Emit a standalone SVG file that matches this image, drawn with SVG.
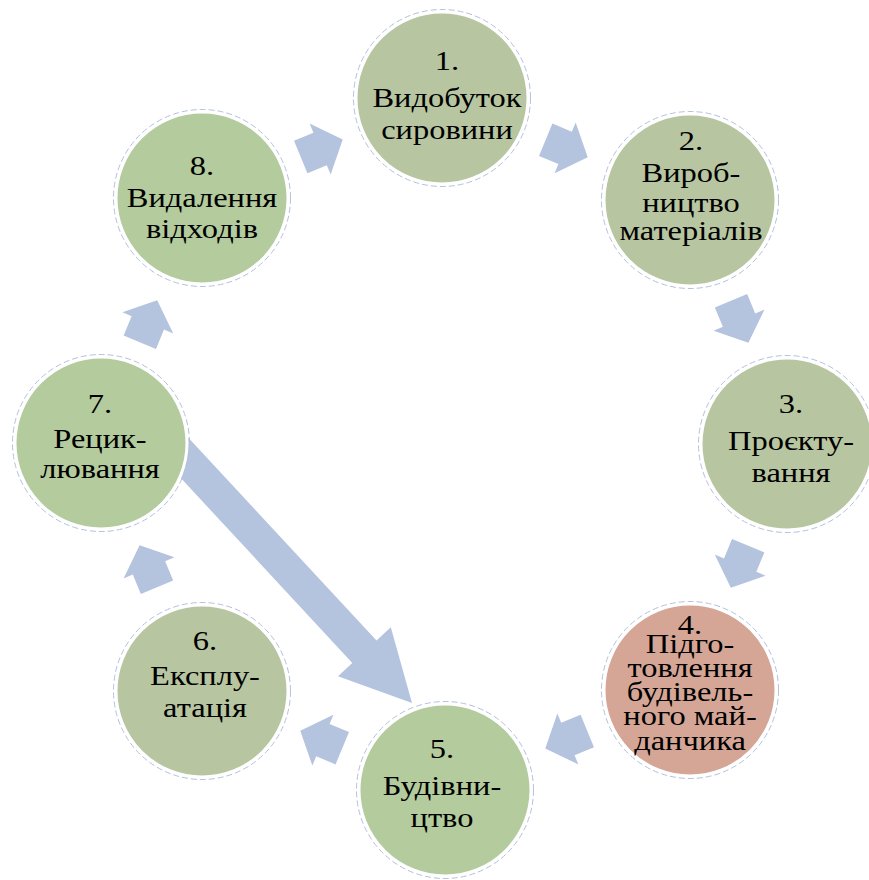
<svg xmlns="http://www.w3.org/2000/svg" width="869" height="880" viewBox="0 0 869 880">
<style>
.node{stroke:#ffffff;stroke-width:3}
.ring{fill:none;stroke:#b3c1dc;stroke-width:1;stroke-dasharray:6 3}
.g1{fill:#b8c5a1}
.g2{fill:#b3cb9d}
.pk{fill:#d5a696}
.arr{fill:#b4c3de}
text{font-family:"Liberation Serif","Times New Roman",serif;font-size:28px;fill:#000;text-anchor:middle}
</style>
<defs>
<path id="ch" d="M-22.5,-17.5 L-1.5,-17.5 L-1.5,-27.5 L23,0 L-1.5,27.5 L-1.5,17.5 L-22.5,17.5 Z"/>
</defs>
<rect width="869" height="880" fill="#ffffff"/>
<g id="connectors">
<polygon class="arr" points="179.3,427.9 376.5,640.5 390.8,627.2 412,703 338,676.2 352.3,662.9 155.1,450.3"/>
<use href="#ch" class="arr" transform="translate(566.5,148.4) rotate(22.5)"/>
<use href="#ch" class="arr" transform="translate(739.6,321.5) rotate(67.5)"/>
<use href="#ch" class="arr" transform="translate(739.6,566.5) rotate(112.5)"/>
<use href="#ch" class="arr" transform="translate(566.5,739.6) rotate(157.5)"/>
<use href="#ch" class="arr" transform="translate(321.5,739.6) rotate(202.5)"/>
<use href="#ch" class="arr" transform="translate(148.4,566.5) rotate(247.5)"/>
<use href="#ch" class="arr" transform="translate(148.4,321.5) rotate(292.5)"/>
<use href="#ch" class="arr" transform="translate(321.5,148.4) rotate(337.5)"/>
</g>
<g id="n1">
<circle class="ring" cx="442" cy="98" r="88.5"/>
<circle class="node g1" cx="442" cy="98" r="86"/>
<g transform="translate(447,0) scale(1.16,1)">
<text x="0" y="70">1.</text>
<text x="0" y="107">Видобуток</text>
<text x="0" y="139">сировини</text>
</g>
</g>
<g id="n2">
<circle class="ring" cx="690" cy="200" r="88.5"/>
<circle class="node g1" cx="690" cy="200" r="86"/>
<g transform="translate(691,0) scale(1.16,1)">
<text x="0" y="150">2.</text>
<text x="0" y="182">Вироб-</text>
<text x="0" y="212">ництво</text>
<text x="0" y="240">матеріалів</text>
</g>
</g>
<g id="n3">
<circle class="ring" cx="787" cy="444" r="88.5"/>
<circle class="node g1" cx="787" cy="444" r="86"/>
<g transform="translate(791,0) scale(1.16,1)">
<text x="0" y="413">3.</text>
<text x="0" y="450">Проєкту-</text>
<text x="0" y="482">вання</text>
</g>
</g>
<g id="n4">
<circle class="ring" cx="690" cy="690" r="88.5"/>
<circle class="node pk" cx="690" cy="690" r="86"/>
<g transform="translate(690,0) scale(1.16,1)">
<text x="0" y="634">4.</text>
<text x="0" y="653">Підго-</text>
<text x="0" y="677">товлення</text>
<text x="0" y="701">будівель-</text>
<text x="0" y="725">ного май-</text>
<text x="0" y="750">данчика</text>
</g>
</g>
<g id="n5">
<circle class="ring" cx="445" cy="790" r="88.5"/>
<circle class="node g2" cx="445" cy="790" r="86"/>
<g transform="translate(442,0) scale(1.16,1)">
<text x="0" y="758">5.</text>
<text x="0" y="795">Будівни-</text>
<text x="0" y="827">цтво</text>
</g>
</g>
<g id="n6">
<circle class="ring" cx="202" cy="691" r="88.5"/>
<circle class="node g1" cx="202" cy="691" r="86"/>
<g transform="translate(205,0) scale(1.16,1)">
<text x="0" y="650">6.</text>
<text x="0" y="685">Експлу-</text>
<text x="0" y="717">атація</text>
</g>
</g>
<g id="n7">
<circle class="ring" cx="101" cy="443" r="88.5"/>
<circle class="node g2" cx="101" cy="443" r="86"/>
<g transform="translate(100,0) scale(1.16,1)">
<text x="0" y="413">7.</text>
<text x="0" y="448">Рецик-</text>
<text x="0" y="478">лювання</text>
</g>
</g>
<g id="n8">
<circle class="ring" cx="202" cy="198" r="88.5"/>
<circle class="node g2" cx="202" cy="198" r="86"/>
<g transform="translate(202,0) scale(1.16,1)">
<text x="0" y="175">8.</text>
<text x="0" y="207">Видалення</text>
<text x="0" y="238">відходів</text>
</g>
</g>
</svg>
